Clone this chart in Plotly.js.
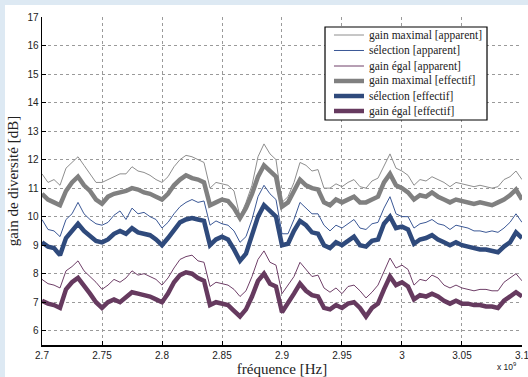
<!DOCTYPE html>
<html>
<head>
<meta charset="utf-8">
<script src="https://cdn.plot.ly/plotly-3.0.1.min.js"></script>
<style>
  html, body { margin: 0; padding: 0; background: #dde9f3; width: 528px; height: 377px; overflow: hidden; }
  #chart { position: absolute; left: 5px; top: 5px; width: 523px; height: 372px; background: #ffffff; }
</style>
</head>
<body>
<div id="chart"></div>
<script>
// fréquence in units of 1e9 Hz
const freq = [2.700,2.705,2.710,2.715,2.720,2.725,2.730,2.735,2.740,2.745,2.750,2.755,2.760,2.765,2.770,2.775,2.780,2.785,2.790,2.795,
  2.800,2.805,2.810,2.815,2.820,2.825,2.830,2.835,2.840,2.845,2.850,2.855,2.860,2.865,2.870,2.875,2.880,2.885,2.890,2.895,
  2.900,2.905,2.910,2.915,2.920,2.925,2.930,2.935,2.940,2.945,2.950,2.955,2.960,2.965,2.970,2.975,2.980,2.985,2.990,2.995,
  3.000,3.005,3.010,3.015,3.020,3.025,3.030,3.035,3.040,3.045,3.050,3.055,3.060,3.065,3.070,3.075,3.080,3.085,3.090,3.095,3.100];

const gainMaxApparent = [11.5,11.2,11.3,11.1,11.7,11.9,12.1,11.8,11.5,11.2,11.2,11.3,11.4,11.5,11.5,11.75,11.6,11.55,11.45,11.3,
  11.2,11.4,11.75,12.0,12.15,12.1,12.0,11.9,11.0,11.2,11.15,11.1,10.9,10.0,10.5,11.1,12.1,12.55,12.2,12.0,
  10.5,10.7,11.2,11.9,11.8,11.6,11.65,11.0,11.0,11.15,11.05,11.2,11.3,11.05,11.0,11.25,11.35,11.8,12.2,11.7,
  11.6,11.45,11.1,11.3,11.25,11.4,11.3,11.2,11.05,11.2,11.15,11.1,11.05,11.1,11.05,11.0,11.05,11.3,11.4,11.6,11.3];

const selApparent = [9.9,9.55,9.5,9.3,9.9,10.1,10.5,10.1,9.9,9.75,9.7,9.8,10.05,10.2,9.9,10.3,10.1,10.15,10.0,9.9,
  9.6,9.8,10.1,10.35,10.5,10.6,10.5,10.55,9.7,9.85,9.75,9.7,9.5,9.1,9.3,9.9,10.7,11.1,10.8,10.6,
  9.4,9.4,9.9,10.5,10.3,10.1,10.1,9.7,9.5,9.7,9.6,9.75,9.9,9.6,9.55,9.75,9.8,10.3,10.7,10.1,
  10.0,10.0,9.6,9.75,9.8,9.9,9.75,9.7,9.55,9.7,9.65,9.6,9.5,9.5,9.45,9.5,9.45,9.6,9.8,10.1,9.8];

const egalApparent = [7.8,7.65,7.6,7.5,8.1,8.25,8.45,8.1,7.9,7.7,7.45,7.6,7.8,7.7,7.85,8.1,7.95,8.0,7.9,7.8,
  7.6,7.85,8.2,8.5,8.6,8.65,8.45,8.4,7.55,7.7,7.65,7.6,7.45,7.2,7.4,7.9,8.5,8.8,8.4,8.3,
  7.3,7.6,7.9,8.4,8.15,7.9,7.95,7.5,7.35,7.5,7.3,7.55,7.6,7.4,7.15,7.35,7.6,8.1,8.55,8.2,
  8.3,8.15,7.6,7.8,7.75,7.95,7.85,7.6,7.5,7.6,7.5,7.45,7.4,7.45,7.45,7.4,7.4,7.7,7.85,8.0,7.75];

const gainMaxEffectif = [10.8,10.6,10.5,10.4,10.9,11.2,11.4,11.1,10.9,10.6,10.45,10.7,10.8,10.85,10.9,11.0,10.95,10.85,10.8,10.7,
  10.6,10.8,11.1,11.3,11.45,11.35,11.3,11.2,10.4,10.5,10.6,10.55,10.3,9.95,10.3,10.8,11.4,11.8,11.6,11.4,
  10.35,10.5,10.9,11.3,11.1,11.0,10.95,10.5,10.4,10.6,10.5,10.6,10.7,10.5,10.5,10.6,10.7,11.2,11.5,11.1,
  11.0,10.85,10.6,10.75,10.7,10.85,10.7,10.6,10.5,10.6,10.55,10.5,10.45,10.5,10.45,10.4,10.5,10.6,10.75,10.95,10.6];

const selEffectif = [9.1,8.95,8.9,8.65,9.25,9.5,9.75,9.5,9.3,9.15,9.1,9.2,9.4,9.5,9.4,9.6,9.45,9.4,9.35,9.2,
  9.0,9.25,9.55,9.8,9.9,9.95,9.9,9.85,9.0,9.2,9.3,9.2,8.85,8.45,8.7,9.3,10.0,10.4,10.2,10.0,
  9.0,9.05,9.5,9.85,9.7,9.45,9.4,9.0,8.9,9.1,9.0,9.15,9.3,9.0,8.95,9.15,9.2,9.75,10.0,9.6,
  9.65,9.55,9.05,9.2,9.25,9.35,9.2,9.1,9.0,9.1,9.0,8.95,8.9,8.85,8.85,8.8,8.75,8.95,9.1,9.45,9.25];

const egalEffectif = [7.05,6.95,6.9,6.8,7.45,7.7,7.85,7.6,7.3,7.0,6.8,7.0,7.1,7.0,7.2,7.35,7.3,7.25,7.2,7.1,
  7.0,7.3,7.7,7.95,8.05,8.0,7.85,7.75,6.9,7.0,6.95,6.9,6.7,6.5,6.75,7.2,7.75,8.0,7.65,7.55,
  6.65,6.95,7.3,7.65,7.4,7.25,7.2,6.8,6.75,6.9,6.8,6.95,7.0,6.8,6.5,6.8,6.95,7.45,7.9,7.6,
  7.7,7.55,7.1,7.25,7.2,7.3,7.2,7.05,6.95,7.05,6.95,6.95,6.9,6.9,6.85,6.85,6.8,7.05,7.2,7.35,7.2];

const xTickVals = [2.7,2.75,2.8,2.85,2.9,2.95,3.0,3.05,3.1];
const xTickText = ["2.7","2.75","2.8","2.85","2.9","2.95","3","3.05","3.1"];
const yTickVals = [6,7,8,9,10,11,12,13,14,15,16,17];

const seriesNames = ["gain maximal [apparent]","sélection [apparent]","gain égal [apparent]",
                     "gain maximal [effectif]","sélection [effectif]","gain égal [effectif]"];
const seriesColors = ["#8e8e8e","#3b5896","#6f3f68","#808080","#2f4a7c","#663a5f"];
const seriesWidths = [1, 1, 1, 4.5, 4.5, 4.5];
const seriesValues = [gainMaxApparent, selApparent, egalApparent, gainMaxEffectif, selEffectif, egalEffectif];

const serif = "Liberation Serif, Times New Roman, serif";
const sans = "Liberation Sans, Arial, Helvetica, sans-serif";

const traces = seriesValues.map((vals, i) => ({
  type: "scatter", mode: "lines", x: freq, y: vals, name: seriesNames[i],
  line: {color: seriesColors[i], width: seriesWidths[i]}
}));

// Compact boxed legend (MATLAB style), built in paper coordinates
const legBox = {x0: 0.5896, x1: 0.9271, y0: 0.686, y1: 0.9695};
const legRowY = [0.9451, 0.8979, 0.8506, 0.8049, 0.7591, 0.7134];
const shapes = [{
  type: "rect", xref: "paper", yref: "paper",
  x0: legBox.x0, x1: legBox.x1, y0: legBox.y0, y1: legBox.y1,
  line: {color: "#000", width: 1.2}, fillcolor: "#ffffff", layer: "above"
}];
const annotations = [];
seriesNames.forEach((nm, i) => {
  shapes.push({
    type: "line", xref: "paper", yref: "paper",
    x0: 0.6083, x1: 0.6708, y0: legRowY[i], y1: legRowY[i],
    line: {color: seriesColors[i], width: seriesWidths[i]}, layer: "above"
  });
  annotations.push({
    text: nm, xref: "paper", yref: "paper", x: 0.6771, y: legRowY[i],
    xanchor: "left", yanchor: "middle", showarrow: false,
    font: {family: serif, size: 11.5, color: "#222"}
  });
});
annotations.push({
  text: "x 10<sup>9</sup>", xref: "paper", yref: "paper", x: 0.994, y: -0.088,
  xanchor: "right", yanchor: "bottom", showarrow: false,
  font: {family: sans, size: 8.5, color: "#222"}
});

const layout = {
  width: 523, height: 372,
  margin: {l: 37, r: 6, t: 12, b: 32, pad: 0},
  paper_bgcolor: "#ffffff", plot_bgcolor: "#ffffff",
  showlegend: false,
  xaxis: {
    range: [2.7, 3.10001], tickvals: xTickVals, ticktext: xTickText,
    ticklabeloverflow: "allow",
    showgrid: true, gridcolor: "#9a9a9a", griddash: "dot", gridwidth: 1,
    showline: true, linecolor: "#000", linewidth: 1.5, mirror: false,
    ticks: "inside", ticklen: 4, tickcolor: "#000",
    tickfont: {family: sans, size: 10, color: "#222"},
    zeroline: false,
    title: {text: "fréquence [Hz]", font: {family: serif, size: 15, color: "#222"}, standoff: 2}
  },
  yaxis: {
    range: [5.5, 17], tickvals: yTickVals,
    showgrid: true, gridcolor: "#9a9a9a", griddash: "dot", gridwidth: 1,
    showline: true, linecolor: "#000", linewidth: 1.5, mirror: false,
    ticks: "inside", ticklen: 4, tickcolor: "#000",
    tickfont: {family: sans, size: 10, color: "#222"},
    zeroline: false,
    title: {text: "gain de diversité [dB]", font: {family: serif, size: 15, color: "#222"}, standoff: 6}
  },
  shapes: shapes,
  annotations: annotations
};

Plotly.newPlot("chart", traces, layout, {displayModeBar: false, staticPlot: true});
</script>
</body>
</html>
